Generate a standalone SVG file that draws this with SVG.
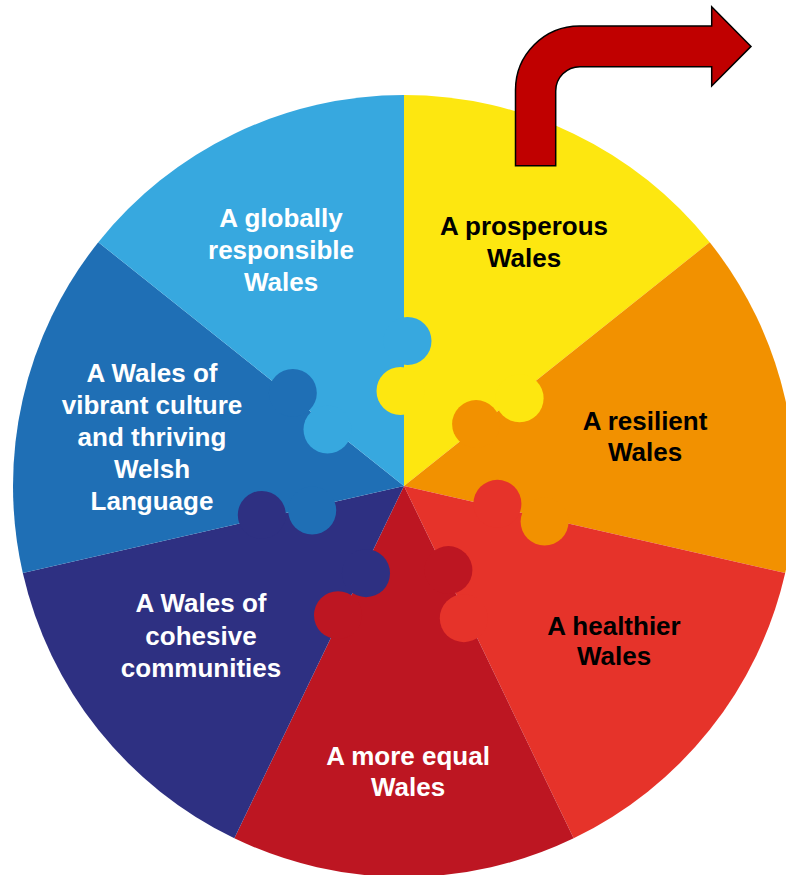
<svg xmlns="http://www.w3.org/2000/svg" width="786" height="875" viewBox="0 0 786 875">
<style>
.lbl{font-family:"Liberation Sans",Arial,Helvetica,sans-serif;font-weight:bold;font-size:26px;text-anchor:middle}
.w{fill:#ffffff}
.k{fill:#000000}
.yellow{fill:#FDE710}
.orange{fill:#F29100}
.red{fill:#E6332A}
.crimson{fill:#BD1622}
.navy{fill:#2E3082}
.blue{fill:#1F6FB5}
.lightblue{fill:#37A8DF}
.arrow{fill:#C00000;stroke:#000000;stroke-width:1.5;stroke-linejoin:miter}
</style>
<rect width="786" height="875" fill="#ffffff"/>
<g id="sectors">
<g id="node-prosperous">
<path class="yellow" d="M404 486 L404 95 A391 391 0 0 1 709.70 242.22 Z"/>
<text class="lbl k" x="524" y="235">A prosperous<tspan x="524" y="267">Wales</tspan></text>
</g>
<g id="node-resilient">
<path class="orange" d="M404 486 L709.70 242.22 A391 391 0 0 1 785.20 573.01 Z"/>
<text class="lbl k" x="645" y="430">A resilient<tspan x="645" y="461">Wales</tspan></text>
</g>
<g id="node-healthier">
<path class="red" d="M404 486 L785.20 573.01 A391 391 0 0 1 573.65 838.28 Z"/>
<text class="lbl k" x="614" y="635">A healthier<tspan x="614" y="665">Wales</tspan></text>
</g>
<g id="node-equal">
<path class="crimson" d="M404 486 L573.65 838.28 A391 391 0 0 1 234.35 838.28 Z"/>
<text class="lbl w" x="408" y="765">A more equal<tspan x="408" y="796">Wales</tspan></text>
</g>
<g id="node-cohesive">
<path class="navy" d="M404 486 L234.35 838.28 A391 391 0 0 1 22.80 573.01 Z"/>
<text class="lbl w" x="201" y="612">A Wales of<tspan x="201" y="645">cohesive</tspan><tspan x="201" y="677">communities</tspan></text>
</g>
<g id="node-culture">
<path class="blue" d="M404 486 L22.80 573.01 A391 391 0 0 1 98.30 242.22 Z"/>
<text class="lbl w" x="152" y="382">A Wales of<tspan x="152" y="414">vibrant culture</tspan><tspan x="152" y="446">and thriving</tspan><tspan x="152" y="478">Welsh</tspan><tspan x="152" y="510">Language</tspan></text>
</g>
<g id="node-global">
<path class="lightblue" d="M404 486 L98.30 242.22 A391 391 0 0 1 404 95 Z"/>
<text class="lbl w" x="281" y="227">A globally<tspan x="281" y="259">responsible</tspan><tspan x="281" y="291">Wales</tspan></text>
</g>
</g>
<g id="knobs">
<circle class="lightblue" cx="407.5" cy="341" r="24"/>
<circle class="yellow" cx="400.5" cy="391" r="24"/>
<circle class="yellow" cx="519.6" cy="398.3" r="24"/>
<circle class="orange" cx="476.1" cy="424.1" r="24"/>
<circle class="orange" cx="544.6" cy="521.6" r="24"/>
<circle class="red" cx="497.4" cy="503.8" r="24"/>
<circle class="red" cx="463.8" cy="618.2" r="24"/>
<circle class="crimson" cx="448.4" cy="570.1" r="24"/>
<circle class="crimson" cx="338.0" cy="615.2" r="24"/>
<circle class="navy" cx="366.0" cy="573.2" r="24"/>
<circle class="navy" cx="261.8" cy="514.9" r="24"/>
<circle class="blue" cx="312.2" cy="510.5" r="24"/>
<circle class="blue" cx="292.8" cy="392.9" r="24"/>
<circle class="lightblue" cx="327.5" cy="429.5" r="24"/>
</g>
<g id="connectors">
<path id="arrow" class="arrow" d="M515.5 165.7 L515.5 90 A64 64 0 0 1 579.5 26 L711.7 26 L711.7 6.7 L751 46.4 L711.7 86 L711.7 66.7 L580 66.7 A24.3 24.3 0 0 0 555.7 91 L555.7 165.7 Z"/>
</g>
</svg>
